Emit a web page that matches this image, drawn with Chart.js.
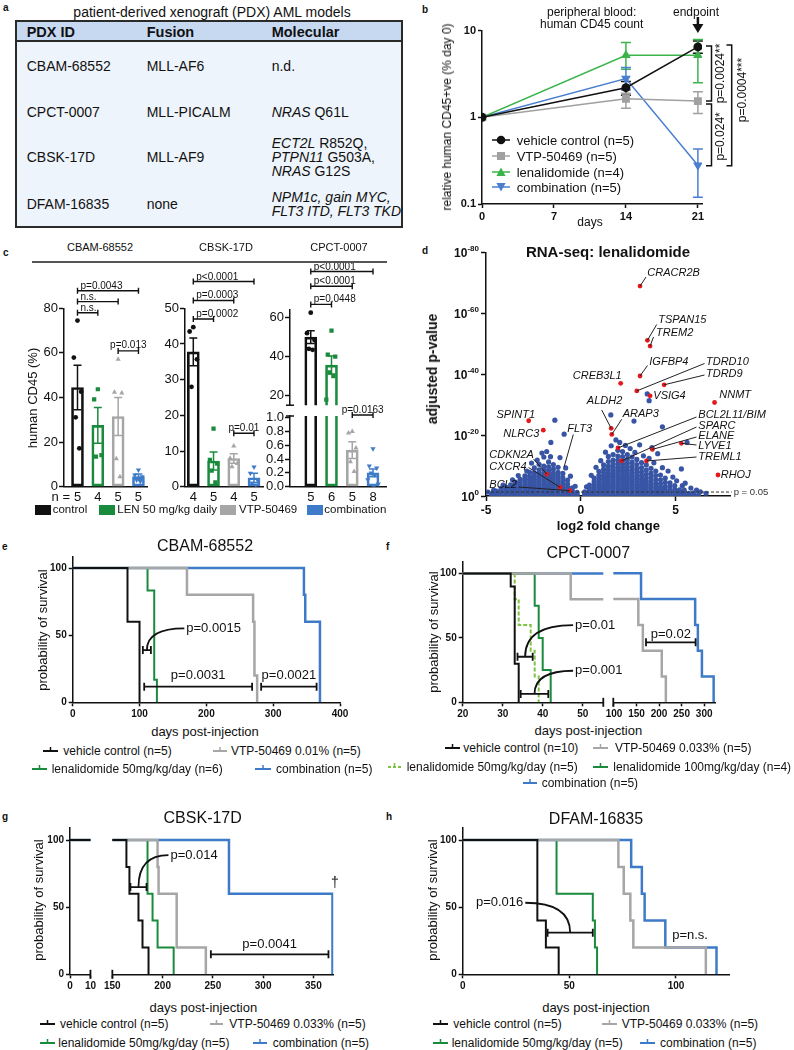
<!DOCTYPE html>
<html>
<head>
<meta charset="utf-8">
<title>PDX AML figure</title>
<script src="https://cdn.jsdelivr.net/npm/chart.js@4.4.1/dist/chart.umd.min.js"></script>
<style>
  body { margin: 0; background: #fff; }
  #root { position: relative; width: 794px; height: 1050px; overflow: hidden; background: #fff;
          font-family: "Liberation Sans", Arial, sans-serif; color: #111; }
  #root canvas { position: absolute; }
  .t { position: absolute; white-space: nowrap; line-height: 1; }
</style>
</head>
<body>
<div id="root"></div>
<script>
const FONT = '"Liberation Sans", Arial, sans-serif';
const INK = '#111';

// ---------- a: PDX models ----------
const pdxIds = ['CBAM-68552', 'CPCT-0007', 'CBSK-17D', 'DFAM-16835'];
const pdxFusion = ['MLL-AF6', 'MLL-PICALM', 'MLL-AF9', 'none'];
const pdxMolecular = [
  ['n.d.'],
  ['<i>NRAS</i> Q61L'],
  ['<i>ECT2L</i> R852Q,', '<i>PTPN11</i> G503A,', '<i>NRAS</i> G12S'],
  ['<i>NPM1c, gain MYC,</i>', '<i>FLT3 ITD, FLT3 TKD</i>'],
];

// ---------- b: peripheral blood CD45 ----------
const bDays = [0, 14, 21];
const bTicks = [0, 7, 14, 21];
const bNames = ['vehicle control (n=5)', 'VTP-50469 (n=5)', 'lenalidomide (n=4)', 'combination (n=5)'];
const bMean = [[1, 2.2, 6.5], [1, 1.64, 1.54], [1, 5.2, 5.2], [1, 2.8, 0.28]];
const bLow = [[1, 1.8, 5.5], [1, 1.27, 1.11], [1, 3.6, 2.5], [1, 2.07, 0.12]];
const bHigh = [[1, 2.6, 7.6], [1, 1.9, 1.98], [1, 7.3, 7.9], [1, 3.77, 0.43]];

// ---------- c: human CD45 in bone marrow ----------
const cGroups = ['control', 'LEN 50 mg/kg daily', 'VTP-50469', 'combination'];
const cModels = ['CBAM-68552', 'CBSK-17D', 'CPCT-0007'];
const cbamN = [5, 4, 5, 5];
const cbamMean = [44.5, 27.5, 31.5, 4.5];
const cbamSem = [10, 8, 8.5, 1.2];
const cbamPts = [[74.5, 57.9, 42.6, 31.1, 17.2], [43.7, 39.2, 14.2, 13.5], [57.2, 42.3, 42.0, 12.5, 4.5], [7.5, 5.2, 4.5, 3.0, 2.3]];
const cbskN = [4, 5, 4, 5];
const cbskMean = [37.8, 7.2, 7.9, 2.5];
const cbskSem = [3.9, 2.5, 1.3, 1.3];
const cbskPts = [[44.7, 43.5, 35.7, 28.0], [16.3, 7.5, 6.5, 4.5, 1.2], [11.4, 8.0, 6.5, 5.6], [5.5, 3.8, 1.8, 1.0, 0.4]];
const cpctN = [5, 6, 5, 8];
const cpctMean = [50.0, 35.7, 0.53, 0.2];
const cpctSem = [3.3, 4.6, 0.12, 0.055];
const cpctPts = [[62.5, 52.0, 48.5, 44.0, 43.5], [53.3, 41.0, 40.0, 32.0, 30.0, 18.0], [0.8, 0.78, 0.56, 0.36, 0.22], [0.55, 0.3, 0.27, 0.2, 0.17, 0.1, 0.04, 0.0]];

// ---------- d: RNA-seq volcano (log2 FC, -log10 adj. p) ----------
const volcanoCols = [
  [-4.7, [0.2, 0.8]],
  [-4.45, [0.2, 1.0, 1.6]],
  [-4.2, [0.2, 1.0, 1.8, 2.5]],
  [-3.95, [0.3, 1.1, 2.0, 2.9]],
  [-3.7, [0.2, 1.0, 1.9, 2.8, 3.7]],
  [-3.45, [0.3, 1.1, 2.0, 2.9, 3.9, 4.6]],
  [-3.2, [0.2, 1.0, 1.9, 2.8, 3.7, 4.7, 5.5]],
  [-2.95, [0.3, 1.1, 2.0, 2.9, 3.8, 4.7, 5.6, 6.6]],
  [-2.7, [0.2, 1.0, 1.9, 2.8, 3.7, 4.6, 5.5, 6.5, 7.8]],
  [-2.45, [0.3, 1.1, 2.0, 2.9, 3.8, 4.7, 5.6, 6.6, 7.6, 9.2]],
  [-2.2, [0.2, 1.0, 1.9, 2.8, 3.7, 4.6, 5.5, 6.4, 7.4, 8.6, 10.4]],
  [-1.95, [0.3, 1.1, 2.0, 2.9, 3.8, 4.7, 5.6, 6.5, 7.5, 8.6, 9.8, 12.8]],
  [-1.7, [0.2, 1.0, 1.9, 2.8, 3.7, 4.6, 5.5, 6.4, 7.3, 8.4, 9.6, 11.2]],
  [-1.45, [0.3, 1.1, 2.0, 2.9, 3.8, 4.7, 5.6, 6.5, 7.5, 8.8, 10.3]],
  [-1.2, [0.2, 1.0, 1.9, 2.8, 3.7, 4.6, 5.5, 6.6, 7.8, 9.4]],
  [-0.95, [0.3, 1.1, 2.0, 2.9, 3.8, 4.8, 6.0, 7.4]],
  [-0.7, [0.2, 1.0, 1.9, 2.8, 3.9, 5.2]],
  [-0.45, [0.2, 0.9, 1.7, 2.7]],
  [-0.2, [0.1, 0.6, 1.2]],
  [0.2, [0.1, 0.7, 1.4]],
  [0.45, [0.2, 0.9, 1.7, 2.6, 3.6]],
  [0.7, [0.2, 1.0, 1.9, 2.8, 3.7, 4.7, 5.9]],
  [0.95, [0.3, 1.1, 2.0, 2.9, 3.8, 4.7, 5.7, 6.8, 8.1]],
  [1.2, [0.2, 1.0, 1.9, 2.8, 3.7, 4.6, 5.5, 6.5, 7.6, 8.8, 10.2]],
  [1.45, [0.3, 1.1, 2.0, 2.9, 3.8, 4.7, 5.6, 6.5, 7.5, 8.6, 9.8, 11.3, 13.0]],
  [1.7, [0.2, 1.0, 1.9, 2.8, 3.7, 4.6, 5.5, 6.4, 7.3, 8.3, 9.3, 10.5, 11.8, 13.6]],
  [1.95, [0.3, 1.1, 2.0, 2.9, 3.8, 4.7, 5.6, 6.5, 7.4, 8.4, 9.4, 10.5, 11.7, 13.1, 15.0]],
  [2.2, [0.2, 1.0, 1.9, 2.8, 3.7, 4.6, 5.5, 6.4, 7.3, 8.3, 9.3, 10.4, 11.6, 12.9, 14.6]],
  [2.45, [0.3, 1.1, 2.0, 2.9, 3.8, 4.7, 5.6, 6.5, 7.4, 8.4, 9.5, 10.7, 12.0, 13.6]],
  [2.7, [0.2, 1.0, 1.9, 2.8, 3.7, 4.6, 5.5, 6.4, 7.4, 8.5, 9.7, 11.1, 12.8]],
  [2.95, [0.3, 1.1, 2.0, 2.9, 3.8, 4.7, 5.6, 6.6, 7.7, 8.9, 10.3, 12.0]],
  [3.2, [0.2, 1.0, 1.9, 2.8, 3.7, 4.6, 5.6, 6.7, 7.9, 9.3, 11.0]],
  [3.45, [0.3, 1.1, 2.0, 2.9, 3.8, 4.8, 5.9, 7.1, 8.5, 10.2]],
  [3.7, [0.2, 1.0, 1.9, 2.8, 3.8, 4.9, 6.1, 7.5, 9.1]],
  [3.95, [0.3, 1.1, 2.0, 3.0, 4.1, 5.3, 6.7, 8.2]],
  [4.2, [0.2, 1.0, 1.9, 2.9, 4.0, 5.3, 6.9]],
  [4.45, [0.3, 1.1, 2.1, 3.2, 4.5, 5.9]],
  [4.7, [0.2, 1.0, 1.9, 3.0, 4.3]],
  [4.95, [0.3, 1.1, 2.1, 3.4]],
  [5.2, [0.2, 1.0, 2.0]],
  [5.45, [0.3, 1.1, 1.9]],
  [5.7, [0.2, 0.9]],
  [5.95, [0.3, 1.0]],
  [6.2, [0.3]],
];
const volcanoExtra = [
  [-4.9, 1.3], [-4.6, 1.9], [-4.1, 3.6], [-3.6, 5.3], [-3.3, 6.7], [-2.85, 8.2], [-2.6, 10.8], [-2.3, 11.8],
  [-2.05, 14.1], [-1.8, 14.6], [-1.6, 12.9], [-1.58, 17.6], [-1.37, 24.9], [-1.1, 12.6], [-0.88, 20.3], [-0.8, 9.2],
  [-0.55, 6.5], [-0.3, 3.2], [0.3, 3.0], [0.55, 6.8], [0.8, 9.4], [1.05, 11.6], [1.3, 14.4], [1.58, 26.6],
  [1.6, 16.5], [1.85, 18.4], [2.05, 17.6], [2.35, 16.6], [2.6, 15.6], [2.8, 24.6], [2.85, 14.3], [3.1, 16.8],
  [3.3, 13.2], [3.5, 33.5], [3.6, 31.3], [3.6, 12.4], [3.75, 15.9], [3.85, 10.9], [4.05, 13.9], [4.3, 22.7],
  [4.3, 9.3], [4.6, 8.2], [4.85, 6.2], [5.05, 5.0], [5.3, 8.9], [5.35, 3.4], [5.5, 4.2], [5.6, 17.6],
  [5.8, 2.6], [6.1, 1.9], [6.3, 1.4], [6.6, 0.9],
];
const hitGenes = ['CRACR2B', 'TSPAN15', 'TREM2', 'IGFBP4', 'TDRD10', 'TDRD9', 'CREB3L1', 'VSIG4', 'NNMT', 'SPINT1', 'NLRC3',
  'ALDH2', 'ARAP3', 'BCL2L11/BIM', 'SPARC', 'ELANE', 'LYVE1', 'TREML1', 'RHOJ', 'CDKN2A', 'CXCR4', 'BCL2'];
const hitLog2FC = [3.12, 3.51, 3.65, 3.12, 2.95, 4.39, 2.1, 3.65, 7.05, -2.75, -1.98, 1.6, 1.63, 1.96, 2.14, 3.77, 5.3, 3.46, 7.23, -1.79, -1.09, -0.58];
const hitNegLogP = [68.9, 51.1, 49.2, 39.4, 34.5, 36.5, 37.0, 32.9, 30.7, 24.7, 21.6, 22.2, 20.2, 15.8, 11.5, 15.3, 17.3, 11.5, 6.9, 7.2, 2.85, 1.75];
const flt3Point = [-0.88, 9.6];

// ---------- e-h: survival (day, % surviving) ----------
const eVehicle = [[0, 100], [82, 60], [100, 0]];
const eVTP = [[0, 100], [171, 80], [270, 60], [272, 20], [276, 0]];
const eLen = [[0, 100], [112, 83.3], [122, 16.7], [126, 0]];
const eCombo = [[0, 100], [346, 80], [348, 60], [370, 0]];

const fVehicle = [[0, 100], [32, 90], [33, 30], [34, 0]];
const fVTP = [[0, 100], [47, 80], [154, 60], [164, 40], [206, 20], [215, 0]];
const fLen50 = [[0, 100], [33, 80], [34, 60], [37, 40], [38, 20], [39, 0]];
const fLen100 = [[0, 100], [38, 75], [39, 50], [40, 25], [42, 0]];
const fCombo = [[0, 100], [160, 80], [280, 60], [286, 40], [295, 20], [321, 0]];

const gVehicle = [[0, 100], [164, 80], [167, 60], [176, 40], [180, 20], [186, 0]];
const gVTP = [[0, 100], [195, 80], [196, 60], [214, 20], [243, 0]];
const gLen = [[0, 100], [185, 60], [190, 40], [195, 20], [211, 0]];
const gCombo = [[0, 100], [266, 60], [369, 0]];

const hVehicle = [[0, 100], [35, 40], [39, 20], [45, 0]];
const hVTP = [[0, 100], [73, 80], [75.5, 60], [78.6, 40], [80, 20], [114, 0]];
const hLen = [[0, 100], [44, 60], [61, 40], [62, 20], [63, 0]];
const hCombo = [[0, 100], [79, 80], [84, 60], [85.3, 40], [95, 20], [119, 0]];

// ---------- helpers ----------
const root = document.getElementById('root');

function txt(x, y, s, o = {}) {
  const d = document.createElement('div');
  d.className = 't';
  const ax = o.a === 'c' ? '-50%' : o.a === 'r' ? '-100%' : '0';
  d.style.left = x + 'px';
  d.style.top = y + 'px';
  d.style.fontSize = (o.size || 12) + 'px';
  if (o.bold) d.style.fontWeight = 'bold';
  if (o.italic) d.style.fontStyle = 'italic';
  if (o.color) d.style.color = o.color;
  d.style.transform = `translate(${ax},-50%)` + (o.rot ? ` rotate(${o.rot}deg)` : '');
  d.innerHTML = s;
  root.appendChild(d);
  return d;
}

function svgAt(x, y, w, h, inner) {
  const d = document.createElement('div');
  d.style.cssText = `position:absolute;left:${x}px;top:${y}px;width:${w}px;height:${h}px`;
  d.innerHTML = `<svg width="${w}" height="${h}" viewBox="0 0 ${w} ${h}" style="display:block;overflow:visible">${inner}</svg>`;
  root.appendChild(d);
}

function axis(min, max, vals, o = {}) {
  return {
    type: o.type || 'linear', min, max, display: o.display !== false, offset: false,
    border: { display: true, color: INK, width: 1.5 },
    grid: { drawOnChartArea: false, drawTicks: o.noTicks ? false : true, tickLength: o.tickLen || 4, tickWidth: 1.5, color: INK, offset: false },
    ticks: {
      color: INK, padding: o.pad ?? 2, maxRotation: 0, autoSkip: false, display: o.showLabels !== false,
      font: { family: FONT, size: o.size || 10, weight: o.weight || 'bold' },
      callback: o.label || (v => String(v)),
    },
    afterBuildTicks: s => { s.ticks = vals.map(v => ({ value: v })); },
  };
}

// box = chart area in page px [l, t, r, b]; m = room for axes/annotations [left, top, right, bottom]
function makeChart(box, m, cfg, draw = {}) {
  const [l, t, r, b] = box, [ml, mt, mr, mb] = m;
  const L = Math.round(l - ml), T = Math.round(t - mt);
  const W = Math.round(r - L + mr), H = Math.round(b - T + mb);
  const padL = l - L, padT = t - T, padR = W - (r - L), padB = H - (b - T);
  const cv = document.createElement('canvas');
  cv.width = W; cv.height = H;
  cv.style.cssText = `left:${L}px;top:${T}px;width:${W}px;height:${H}px`;
  root.appendChild(cv);
  const sc = cfg.options.scales;
  const yOn = sc.y.display !== false, xOn = sc.x.display !== false;
  if (yOn) sc.y.afterFit = s => { s.width = padL; };
  if (xOn) sc.x.afterFit = s => { s.height = padB; };
  Object.assign(cfg.options, {
    responsive: false, animation: false, devicePixelRatio: 1,
    layout: { padding: { left: yOn ? 0 : padL, top: padT, right: padR, bottom: xOn ? 0 : padB } },
  });
  cfg.options.plugins = Object.assign({ legend: { display: false }, tooltip: { enabled: false } }, cfg.options.plugins);
  const hook = fn => function (chart) {
    if (!fn) return;
    const ctx = chart.ctx;
    const X = v => chart.scales.x.getPixelForValue(v) + L;
    const Y = v => chart.scales.y.getPixelForValue(v) + T;
    const a = chart.chartArea;
    const area = { left: a.left + L, right: a.right + L, top: a.top + T, bottom: a.bottom + T };
    ctx.save();
    ctx.translate(-L, -T);
    fn(ctx, X, Y, area);
    ctx.restore();
  };
  cfg.plugins = [{ id: 'extras', beforeDatasetsDraw: hook(draw.before), afterDatasetsDraw: hook(draw.after) }];
  return new Chart(cv, cfg);
}

function font(size, style = '') { return `${style} ${size}px ${FONT}`.trim(); }

function ctxText(ctx, s, x, y, size, align = 'left', style = '', base = 'middle') {
  ctx.font = font(size, style);
  ctx.fillStyle = INK;
  ctx.textAlign = align;
  ctx.textBaseline = base;
  ctx.fillText(s, x, y);
}

// ---------- panel letters ----------
[['a', 3, 8], ['b', 422, 10], ['c', 3, 253], ['d', 422, 251], ['e', 2, 547], ['f', 386, 547], ['g', 2, 817], ['h', 386, 817]]
  .forEach(([s, x, y]) => txt(x, y, s, { size: 10, bold: true }));

// ---------- a: table ----------
txt(212, 12, 'patient-derived xenograft (PDX) AML models', { a: 'c', size: 14 });
{
  const box = document.createElement('div');
  box.style.cssText = 'position:absolute;left:15px;top:20px;width:388px;height:208px;box-sizing:border-box;border:2px solid #2a2a2a;background:#eef4fb;';
  const hd = document.createElement('div');
  hd.style.cssText = 'position:absolute;left:0;top:0;right:0;height:18px;background:#c6d9f1;border-bottom:2px solid #2a2a2a;';
  box.appendChild(hd);
  root.appendChild(box);
  const cols = [26.7, 146.7, 271.7];
  ['PDX ID', 'Fusion', 'Molecular'].forEach((h, i) => txt(cols[i], 32, h, { size: 14.5, bold: true }));
  const rowY = [66, 111.7, 156.7, 204];
  pdxIds.forEach((id, i) => {
    txt(cols[0], rowY[i], id, { size: 14 });
    txt(cols[1], rowY[i], pdxFusion[i], { size: 14 });
    const lines = pdxMolecular[i];
    const y0 = rowY[i] - (lines.length - 1) * 14.2 / 2;
    lines.forEach((s, k) => txt(cols[2], y0 + k * 14.2, s, { size: 14 }));
  });
}

// ---------- b: line chart, log scale ----------
const bColors = ['#111', '#a0a0a0', '#3cb44b', '#4a7fd0'];
const bShapes = ['circle', 'rect', 'triangle', 'triangle'];
const bRot = [0, 0, 0, 180];
const bRad = [4.5, 5.6, 5.6, 5.6];
makeChart([482, 30.7, 702, 204], [40, 28, 50, 24], {
  type: 'line',
  data: {
    datasets: bMean.map((vals, k) => ({
      data: bDays.map((d, i) => ({ x: d, y: vals[i] })),
      borderColor: bColors[k], backgroundColor: bColors[k], borderWidth: 1.5,
      pointStyle: bShapes[k], rotation: bRot[k], pointRadius: bRad[k],
      pointBackgroundColor: bColors[k], pointBorderColor: bColors[k], pointBorderWidth: 0, tension: 0,
    })),
  },
  options: {
    scales: {
      x: axis(0, 21.4, bTicks, { size: 11 }),
      y: axis(0.1, 10, [0.1, 1, 10], { type: 'logarithmic', size: 11 }),
    },
  },
}, {
  before(ctx, X, Y) {
    ctx.lineWidth = 1.5;
    bMean.forEach((vals, k) => {
      ctx.strokeStyle = bColors[k];
      bDays.forEach((d, i) => {
        if (bLow[k][i] === bHigh[k][i]) return;
        const x = X(d), y1 = Y(bLow[k][i]), y2 = Y(bHigh[k][i]);
        ctx.beginPath();
        ctx.moveTo(x, y1); ctx.lineTo(x, y2);
        ctx.moveTo(x - 5, y1); ctx.lineTo(x + 5, y1);
        ctx.moveTo(x - 5, y2); ctx.lineTo(x + 5, y2);
        ctx.stroke();
      });
    });
  },
  after(ctx, X, Y) {
    ctx.strokeStyle = INK; ctx.lineWidth = 1.5;
    const vbr = (x, xl, y1, y2) => {
      ctx.beginPath(); ctx.moveTo(xl, y1); ctx.lineTo(x, y1); ctx.lineTo(x, y2); ctx.lineTo(xl, y2); ctx.stroke();
    };
    const yVeh = Y(bMean[0][2]) - 1, yVtp = Y(bMean[1][2]), yCom = Y(bMean[3][2]) + 0.5;
    vbr(711.5, 706, yVeh, yVtp);
    vbr(711.5, 706, yVtp + 3, yCom);
    vbr(731.7, 726.5, yVeh - 1, yCom);
    const rot = (s, x, y) => {
      ctx.save(); ctx.translate(x, y); ctx.rotate(-Math.PI / 2);
      ctxText(ctx, s, 0, 0, 12, 'center'); ctx.restore();
    };
    rot('p=0.0024**', 720.5, (yVeh + yVtp) / 2);
    rot('p=0.024*', 720.5, (yVtp + yCom) / 2 + 3);
    rot('p=0.0004***', 743, 90);
    // endpoint arrow
    const ax = X(21);
    ctx.lineWidth = 2.5;
    ctx.beginPath(); ctx.moveTo(ax, 17); ctx.lineTo(ax, 26); ctx.stroke();
    ctx.fillStyle = INK;
    ctx.beginPath(); ctx.moveTo(ax - 5.5, 24); ctx.lineTo(ax + 5.5, 24); ctx.lineTo(ax, 33); ctx.closePath(); ctx.fill();
  },
});
txt(591.7, 11.7, 'peripheral blood:', { a: 'c', size: 12 });
txt(591.7, 24, 'human CD45 count', { a: 'c', size: 12 });
txt(696, 12, 'endpoint', { a: 'c', size: 12 });
txt(590, 222, 'days', { a: 'c', size: 12 });
txt(446.7, 117, 'relative human CD45+ve (% day 0)', { a: 'c', size: 12, rot: -90 });
{
  const shp = {
    circle: c => `<circle cx="9" cy="6" r="4.3" fill="${c}"/>`,
    rect: c => `<rect x="5" y="2" width="8" height="8" fill="${c}"/>`,
    tri: c => `<polygon points="9,1.5 13.6,10 4.4,10" fill="${c}"/>`,
    down: c => `<polygon points="9,10.5 13.6,2 4.4,2" fill="${c}"/>`,
  };
  const kinds = ['circle', 'rect', 'tri', 'down'];
  const ys = [140, 155.7, 171.7, 187.3];
  bNames.forEach((n, k) => {
    svgAt(492, ys[k] - 6, 18, 12, `<line x1="0" y1="6" x2="18" y2="6" stroke="${bColors[k]}" stroke-width="1.5"/>` + shp[kinds[k]](bColors[k]));
    txt(516.7, ys[k], n, { size: 13 });
  });
}

// ---------- c: bar charts with points ----------
const cColors = ['#111', '#1a8a3c', '#a6a6a6', '#3e7cc9'];
const cShapes = ['circle', 'rect', 'triangle', 'triangle'];
const cRot = [0, 0, 0, 180];
const cRad = [2.4, 3.0, 3.0, 3.0];
const JIT = [0, -0.18, 0.18, -0.09, 0.09, -0.25, 0.25, 0.04];

function barPanel(box, m, xr, yr, yTicks, nLabels, mean, sem, pts, brackets, o = {}) {
  const datasets = [];
  pts.forEach((vals, g) => datasets.push({
    type: 'scatter', order: 0,
    data: vals.map((v, k) => ({ x: g + 1 + JIT[k], y: v })),
    pointStyle: cShapes[g], rotation: cRot[g], pointRadius: cRad[g],
    pointBackgroundColor: cColors[g], pointBorderColor: cColors[g], pointBorderWidth: 0,
  }));
  datasets.push({
    type: 'bar', order: 1,
    data: mean.map((v, g) => ({ x: g + 1, y: v })),
    backgroundColor: 'rgba(255,255,255,0)', borderColor: cColors, borderWidth: 2,
    borderSkipped: false, barThickness: 12, clip: 0,
  });
  const xAx = axis(xr[0], xr[1], [1, 2, 3, 4], { weight: 'normal', size: 13, noTicks: true, pad: 3, label: v => String(nLabels[v - 1]) });
  if (o.hideX) xAx.display = false;
  return makeChart(box, m, {
    type: 'bar',
    data: { datasets },
    options: {
      scales: {
        x: xAx,
        y: axis(yr[0], yr[1], yTicks, { weight: 'normal', size: 13, tickLen: 5, pad: 1, label: o.fmt || (v => String(v)) }),
      },
    },
  }, {
    after(ctx, X, Y, area) {
      ctx.save();
      ctx.beginPath(); ctx.rect(area.left, area.top - 1, area.right - area.left, area.bottom - area.top + 2); ctx.clip();
      ctx.lineWidth = 1.5;
      mean.forEach((v, g) => {
        const x = X(g + 1), y1 = Y(v - sem[g]), y2 = Y(v + sem[g]);
        ctx.strokeStyle = cColors[g];
        ctx.beginPath();
        ctx.moveTo(x, y1); ctx.lineTo(x, y2);
        ctx.moveTo(x - 4, y1); ctx.lineTo(x + 4, y1);
        ctx.moveTo(x - 4, y2); ctx.lineTo(x + 4, y2);
        ctx.stroke();
      });
      ctx.restore();
      ctx.strokeStyle = INK; ctx.lineWidth = 1.4;
      brackets.forEach(([g1, g2, yv, label, al]) => {
        const x1 = X(g1 + 1), x2 = X(g2 + 1), y = Y(yv);
        ctx.beginPath();
        ctx.moveTo(x1, y); ctx.lineTo(x2, y);
        ctx.moveTo(x1, y - 3); ctx.lineTo(x1, y + 3);
        ctx.moveTo(x2, y - 3); ctx.lineTo(x2, y + 3);
        ctx.stroke();
        if (al === 'c') ctxText(ctx, label, (x1 + x2) / 2, y - 2.5, 10, 'center', '', 'alphabetic');
        else ctxText(ctx, label, x1 + 3, y - 2, 10, 'left', '', 'alphabetic');
      });
      if (o.breakTop || o.breakBottom) {
        ctx.strokeStyle = INK; ctx.lineWidth = 1.5;
        const yb = o.breakTop ? area.top : area.bottom;
        ctx.beginPath(); ctx.moveTo(area.left - 4, yb); ctx.lineTo(area.left + 4, yb); ctx.stroke();
      }
    },
  });
}

barPanel([64, 308.3, 147, 486.7], [34, 50, 8, 22], [0.336, 4.42], [0, 80], [0, 20, 40, 60, 80], cbamN, cbamMean, cbamSem, cbamPts,
  [[0, 3, 87.9, 'p=0.0043', 'l'], [0, 2, 83, 'n.s.', 'l'], [0, 1, 78, 'n.s.', 'l'], [2, 3, 60.9, 'p=0.013', 'c']]);
barPanel([185, 308.3, 263, 486.7], [34, 50, 8, 22], [0.59, 4.445], [0, 50], [0, 10, 20, 30, 40, 50], cbskN, cbskMean, cbskSem, cbskPts,
  [[0, 3, 57.5, 'p<0.0001', 'l'], [0, 2, 52.2, 'p=0.0003', 'l'], [0, 1, 47, 'p=0.0002', 'l'], [2, 3, 15, 'p=0.01', 'c']]);
barPanel([290, 309.3, 386.7, 408], [34, 50, 8, 6], [0, 4.66], [15.2, 64.2], [20, 40, 60], cpctN, cpctMean, cpctSem, cpctPts,
  [[0, 3, 83.5, 'p<0.0001', 'l'], [0, 2, 76, 'p<0.0001', 'l'], [0, 1, 66.7, 'p=0.0448', 'l']], { hideX: true, breakBottom: true });
barPanel([290, 416, 386.7, 486.7], [34, 22, 8, 22], [0, 4.66], [0, 1.025], [0, 0.2, 0.4, 0.6, 0.8, 1.0], cpctN, cpctMean, cpctSem, cpctPts,
  [[2, 3, 1.039, 'p=0.0163', 'c']], { breakTop: true, fmt: v => v.toFixed(1) });

[[100, cModels[0]], [226, cModels[1]], [339, cModels[2]]].forEach(([x, s]) => txt(x, 247, s, { a: 'c', size: 11 }));
{
  const ln = document.createElement('div');
  ln.style.cssText = 'position:absolute;left:31.7px;top:261px;width:355px;height:1.5px;background:#555;';
  root.appendChild(ln);
}
txt(31.7, 398, 'human CD45 (%)', { a: 'c', size: 13, rot: -90 });
txt(70, 496, 'n =', { a: 'r', size: 13 });
{
  const boxes = [[35, 52.7], [99, 117.3], [220, 239], [306.7, 324.3]];
  cGroups.forEach((g, i) => {
    const d = document.createElement('div');
    d.style.cssText = `position:absolute;left:${boxes[i][0]}px;top:505px;width:16px;height:10px;background:${cColors[i]};`;
    root.appendChild(d);
    txt(boxes[i][1], 510, g, { size: 11.5 });
  });
}

// ---------- d: volcano ----------
const volcPts = [];
volcanoCols.forEach(([x, ys]) => ys.forEach(y => volcPts.push({ x, y })));
volcanoExtra.forEach(([x, y]) => volcPts.push({ x, y }));
// label placement [x, y, align, leader-start x, leader-start y] in page px
const hitLabelAt = [
  [647.3, 273.3, 'l', 646, 277], [658.3, 320, 'l', 656.7, 324.5], [656, 333.3, 'l', 653.5, 337], [649.3, 361.7, 'l', 647.5, 365.5],
  [706, 361.7, 'l', 704.5, 363.5], [706, 374, 'l', 704.5, 375], [621.7, 376, 'r'], [653.3, 395.7, 'l'], [719.3, 395, 'l'],
  [535, 415, 'r'], [539.3, 434, 'r'], [622.3, 400.7, 'r', 601.7, 410], [622.7, 414.3, 'l', 621.7, 419.3],
  [698.3, 415, 'l', 696.5, 417], [698.3, 425.7, 'l', 696.5, 427], [698.3, 435.7, 'l', 696.5, 437], [698.3, 445.7, 'l', 696.5, 445],
  [698.3, 456.7, 'l', 696.5, 457], [720.7, 475, 'l'], [489.3, 455, 'l', 533.5, 459], [489.3, 466.7, 'l', 528.5, 467.5], [489.3, 485, 'l', 518.5, 487],
];
makeChart([486, 252.3, 730.7, 496], [52, 10, 62, 22], {
  type: 'scatter',
  data: {
    datasets: [
      { data: hitGenes.map((g, i) => ({ x: hitLog2FC[i], y: hitNegLogP[i] })), pointBackgroundColor: '#e3191c', pointRadius: 2.4, pointBorderWidth: 0 },
      { data: volcPts, pointBackgroundColor: '#3855a5', pointRadius: 2.6, pointBorderWidth: 0 },
    ],
  },
  options: {
    scales: {
      x: axis(-5, 7.9, [-5, 0, 5], { size: 12, tickLen: 5 }),
      y: axis(0, 80, [0, 20, 40, 60, 80], { showLabels: false, tickLen: 5 }),
    },
  },
}, {
  after(ctx, X, Y, area) {
    [0, 20, 40, 60, 80].forEach(v => {
      const y = Y(v) + 4.5, xr = X(-5) - 7;
      const sup = v === 0 ? '0' : '-' + v;
      ctxText(ctx, sup, xr, y - 6, 8, 'right', 'bold', 'alphabetic');
      ctx.font = font(8, 'bold');
      const w = ctx.measureText(sup).width;
      ctxText(ctx, '10', xr - w, y, 12, 'right', 'bold', 'alphabetic');
    });
    // significance threshold
    const yp = Y(1.3);
    ctx.save();
    ctx.strokeStyle = '#333'; ctx.lineWidth = 1; ctx.setLineDash([3, 2]);
    ctx.beginPath(); ctx.moveTo(area.left, yp); ctx.lineTo(area.right + 1, yp); ctx.stroke();
    ctx.restore();
    ctx.font = font(9.5); ctx.fillStyle = '#333'; ctx.textAlign = 'left'; ctx.textBaseline = 'middle';
    ctx.fillText('p = 0.05', area.right + 3, yp);
    // gene labels
    ctx.strokeStyle = '#222'; ctx.lineWidth = 1;
    hitGenes.forEach((g, i) => {
      const [lx, ly, al, sx, sy] = hitLabelAt[i];
      if (sx !== undefined) {
        ctx.beginPath(); ctx.moveTo(sx, sy); ctx.lineTo(X(hitLog2FC[i]), Y(hitNegLogP[i])); ctx.stroke();
      }
      ctxText(ctx, g, lx, ly, 11, al === 'r' ? 'right' : 'left', 'italic');
    });
    ctx.beginPath(); ctx.moveTo(573.3, 434.5); ctx.lineTo(X(flt3Point[0]), Y(flt3Point[1])); ctx.stroke();
    ctxText(ctx, 'FLT3', 567.3, 429.3, 11, 'left', 'italic');
  },
});
txt(608, 251, 'RNA-seq: lenalidomide', { a: 'c', size: 15, bold: true });
txt(608.3, 525, 'log2 fold change', { a: 'c', size: 13, bold: true });
txt(432, 369, 'adjusted p-value', { a: 'c', size: 14, bold: true, rot: -90 });

// ---------- e-h: Kaplan-Meier ----------
const K_BLACK = '#111', K_GREEN = '#1a8a3c', K_LGREEN = '#7dc242', K_GRAY = '#a6a6a6', K_BLUE = '#3d7bc8';

function kmBracket(ctx, X, Y, b) {
  const x1 = X(b.x1), x2 = X(b.x2), y = Y(b.y);
  ctx.strokeStyle = INK; ctx.lineWidth = 1.8;
  ctx.beginPath();
  ctx.moveTo(x1, y); ctx.lineTo(x2, y);
  ctx.moveTo(x1, y - 4); ctx.lineTo(x1, y + 4);
  ctx.moveTo(x2, y - 4); ctx.lineTo(x2, y + 4);
  ctx.stroke();
  if (b.curve) {
    const mx = (x1 + x2) / 2, tx = X(b.tx), ty = Y(b.ty);
    const ex = b.curve === 'r' ? tx + 2 : tx - 2;
    ctx.beginPath(); ctx.moveTo(mx, y); ctx.quadraticCurveTo(mx, ty, ex, ty); ctx.stroke();
    ctxText(ctx, b.text, tx, ty, 13, b.curve === 'r' ? 'right' : 'left');
  } else {
    ctxText(ctx, b.text, (x1 + x2) / 2, Y(b.ty), 13, 'center');
  }
}

function breakTick(ctx, x, y) {
  ctx.strokeStyle = INK; ctx.lineWidth = 1.8;
  ctx.beginPath(); ctx.moveTo(x, y - 4.5); ctx.lineTo(x, y + 4.5); ctx.stroke();
}

function kmChart(box, m, xr, xt, ymax, series, yOn, notes) {
  return makeChart(box, m, {
    type: 'line',
    data: {
      datasets: series.map(s => ({
        data: s.pts.map(p => ({ x: p[0], y: p[1] })),
        borderColor: s.color, borderWidth: s.w || 2, borderDash: s.dash || [],
        stepped: 'before', pointRadius: 0, fill: false, tension: 0, borderCapStyle: 'butt',
      })),
    },
    options: {
      scales: {
        x: axis(xr[0], xr[1], xt),
        y: axis(0, ymax, [0, 50, 100], { display: yOn }),
      },
    },
  }, { after: notes });
}

function kmKey(x1, x2, y, color, tx, label, dash) {
  const w = x2 - x1;
  svgAt(x1, y - 6, w, 10, `<line x1="0" y1="6" x2="${w}" y2="6" stroke="${color}" stroke-width="2"${dash ? ' stroke-dasharray="3 2"' : ''}/>` +
    `<line x1="${w / 2}" y1="2" x2="${w / 2}" y2="6" stroke="${color}" stroke-width="1.5"/>`);
  txt(tx, y, label, { size: 12 });
}

// e
kmChart([72.7, 556.7, 340, 702.3], [36, 8, 14, 18], [0, 400], [0, 100, 200, 300, 400], 108.2, [
  { pts: eVehicle, color: K_BLACK }, { pts: eVTP, color: K_GRAY, w: 2.5 }, { pts: eLen, color: K_GREEN }, { pts: eCombo, color: K_BLUE, w: 2.5 },
], true, (ctx, X, Y) => {
  kmBracket(ctx, X, Y, { x1: 105, x2: 117, y: 38.9, text: 'p=0.0015', tx: 170, ty: 55, curve: 'l' });
  kmBracket(ctx, X, Y, { x1: 107, x2: 268.5, y: 11.6, text: 'p=0.0031', ty: 19.8 });
  kmBracket(ctx, X, Y, { x1: 282, x2: 365, y: 11.6, text: 'p=0.0021', ty: 19.8 });
});
txt(205, 546, 'CBAM-68552', { a: 'c', size: 16 });
txt(205, 730.7, 'days post-injection', { a: 'c', size: 13 });
txt(41.7, 630, 'probability of survival', { a: 'c', size: 13, rot: -90 });
kmKey(43, 58, 751, K_BLACK, 63.3, 'vehicle control (n=5)');
kmKey(213, 227, 751, K_GRAY, 231, 'VTP-50469 0.01% (n=5)');
kmKey(32, 47, 769, K_GREEN, 51.7, 'lenalidomide 50mg/kg/day (n=6)');
kmKey(255, 271, 769, K_BLUE, 276, 'combination (n=5)');

// f
const fSeries = [
  { pts: fVehicle, color: K_BLACK }, { pts: fVTP, color: K_GRAY, w: 2.5 }, { pts: fLen50, color: K_LGREEN, dash: [4, 2] },
  { pts: fLen100, color: K_GREEN }, { pts: fCombo, color: K_BLUE, w: 2.5 },
];
kmChart([462.7, 561.7, 603.3, 702.3], [36, 8, 34, 18], [20, 55.15], [20, 30, 40, 50], 109, fSeries, true, (ctx, X, Y) => {
  kmBracket(ctx, X, Y, { x1: 33.7, x2: 37.5, y: 35.4, text: 'p=0.01', tx: 48.1, ty: 59.9, curve: 'l' });
  kmBracket(ctx, X, Y, { x1: 34.5, x2: 41.4, y: 6.5, text: 'p=0.001', tx: 48.1, ty: 24.5, curve: 'l' });
  breakTick(ctx, X(55.15), Y(0));
});
kmChart([613.3, 561.7, 715, 702.3], [10, 8, 14, 18], [98.5, 324], [100, 150, 200, 250, 300], 109, fSeries, false, (ctx, X, Y) => {
  kmBracket(ctx, X, Y, { x1: 171, x2: 281, y: 46.5, text: 'p=0.02', ty: 52.4 });
  breakTick(ctx, X(98.5), Y(0));
});
txt(588.3, 553.3, 'CPCT-0007', { a: 'c', size: 16 });
txt(588.3, 730, 'days post-injection', { a: 'c', size: 13 });
txt(433.3, 631.7, 'probability of survival', { a: 'c', size: 13, rot: -90 });
kmKey(445, 460, 748.3, K_BLACK, 463.3, 'vehicle control (n=10)');
kmKey(593, 608, 748.3, K_GRAY, 615, 'VTP-50469 0.033% (n=5)');
kmKey(388, 401, 766.7, K_LGREEN, 406.7, 'lenalidomide 50mg/kg/day (n=5)', true);
kmKey(593, 608, 766.7, K_GREEN, 613.3, 'lenalidomide 100mg/kg/day (n=4)');
kmKey(523, 537, 783.3, K_BLUE, 541.7, 'combination (n=5)');

// g
const gSeries = [
  { pts: gVehicle, color: K_BLACK }, { pts: gVTP, color: K_GRAY, w: 2.5 }, { pts: gLen, color: K_GREEN }, { pts: gCombo, color: K_BLUE, w: 2.5 },
];
kmChart([70, 827.3, 92.3, 974.3], [36, 8, 6, 18], [0, 10], [0, 10], 109.5, gSeries, true, (ctx, X, Y) => {
  breakTick(ctx, X(10), Y(0));
});
kmChart([111.7, 827.3, 333.3, 974.3], [10, 8, 14, 18], [150, 369.8], [150, 200, 250, 300, 350], 109.5, gSeries, false, (ctx, X, Y) => {
  kmBracket(ctx, X, Y, { x1: 168, x2: 184, y: 65, text: 'p=0.014', tx: 207.8, ty: 88.8, curve: 'l' });
  kmBracket(ctx, X, Y, { x1: 248, x2: 365, y: 14.9, text: 'p=0.0041', ty: 22.6 });
  breakTick(ctx, X(150), Y(0));
  ctxText(ctx, '\u2020', X(371.5), Y(67.8), 14, 'center');
});
txt(202.7, 818.3, 'CBSK-17D', { a: 'c', size: 16 });
txt(203.3, 1006.7, 'days post-injection', { a: 'c', size: 13 });
txt(38.3, 900, 'probability of survival', { a: 'c', size: 13, rot: -90 });
kmKey(40, 55, 1024, K_BLACK, 60, 'vehicle control (n=5)');
kmKey(210, 223, 1024, K_GRAY, 229.3, 'VTP-50469 0.033% (n=5)');
kmKey(40, 55, 1042.7, K_GREEN, 58.3, 'lenalidomide 50mg/kg/day (n=5)');
kmKey(253, 267, 1042.7, K_BLUE, 272.7, 'combination (n=5)');

// h
kmChart([462.7, 827.3, 729.3, 974.3], [36, 8, 14, 18], [0, 125], [0, 50, 100], 109.5, [
  { pts: hVehicle, color: K_BLACK }, { pts: hVTP, color: K_GRAY, w: 2.5 }, { pts: hLen, color: K_GREEN }, { pts: hCombo, color: K_BLUE, w: 2.5 },
], true, (ctx, X, Y) => {
  kmBracket(ctx, X, Y, { x1: 39.8, x2: 61, y: 31, text: 'p=0.016', tx: 28.4, ty: 53.3, curve: 'r' });
  ctxText(ctx, 'p=n.s.', X(106.6), Y(29.3), 13, 'center');
});
txt(596, 819.3, 'DFAM-16835', { a: 'c', size: 16 });
txt(596, 1006.7, 'days post-injection', { a: 'c', size: 13 });
txt(431.7, 900, 'probability of survival', { a: 'c', size: 13, rot: -90 });
kmKey(433, 448, 1024, K_BLACK, 453.3, 'vehicle control (n=5)');
kmKey(602, 617, 1024, K_GRAY, 621.7, 'VTP-50469 0.033% (n=5)');
kmKey(433, 448, 1042.7, K_GREEN, 451.7, 'lenalidomide 50mg/kg/day (n=5)');
kmKey(640, 655, 1042.7, K_BLUE, 660, 'combination (n=5)');
</script>
</body>
</html>
